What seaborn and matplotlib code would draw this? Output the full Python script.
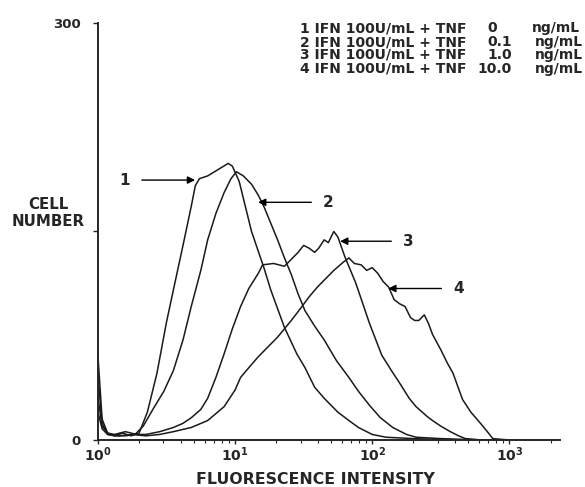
import numpy as np
import pandas as pd
import matplotlib
matplotlib.use("Agg")
import matplotlib.pyplot as plt
import seaborn as sns

# ---- data (log10 fluorescence, cell number) ----
c1_log = [0, 0.03, 0.07, 0.12, 0.18, 0.24, 0.3, 0.36, 0.43, 0.5, 0.55, 0.62, 0.68, 0.71, 0.74,
          0.8, 0.85, 0.9, 0.95, 0.98, 1.03, 1.12, 1.21, 1.26, 1.36, 1.45, 1.51, 1.58, 1.65, 1.75,
          1.83, 1.9, 2.0, 2.1, 2.3, 2.6, 3.0]
c1_val = [45, 12, 4, 3, 5, 3, 5, 20, 48, 85, 108, 140, 168, 183, 188,
          190, 193, 196, 199, 197, 186, 150, 124, 108, 81, 62, 52, 38, 30, 20,
          14, 9, 4, 2, 1, 0, 0]

c2_log = [0, 0.03, 0.07, 0.12, 0.2, 0.27, 0.33, 0.4, 0.48, 0.55, 0.62, 0.68, 0.75, 0.8, 0.86,
          0.92, 0.97, 1.01, 1.06, 1.12, 1.17, 1.21, 1.26, 1.31, 1.36, 1.41, 1.46, 1.51, 1.58,
          1.65, 1.74, 1.83, 1.9, 1.98, 2.06, 2.15, 2.25, 2.32, 2.5, 2.8, 3.0]
c2_val = [60, 15, 5, 3, 3, 4, 10, 22, 35, 50, 72, 96, 122, 144, 163,
          178, 188, 193, 190, 184, 176, 168, 156, 144, 131, 119, 105, 93, 82,
          72, 57, 45, 35, 25, 16, 9, 4, 2, 1, 0, 0]

c3_log = [0, 0.03, 0.07, 0.12, 0.2, 0.28, 0.35, 0.45, 0.55, 0.62, 0.68, 0.75, 0.8, 0.86, 0.92,
          0.98, 1.04, 1.1, 1.17, 1.2, 1.28, 1.36, 1.41, 1.46, 1.5, 1.54, 1.58, 1.61, 1.65, 1.68,
          1.72, 1.75, 1.8, 1.88, 1.98, 2.07, 2.14, 2.2, 2.27, 2.32, 2.4, 2.44, 2.5, 2.57, 2.63,
          2.68, 2.8, 3.0]
c3_val = [30, 10, 5, 4, 6, 4, 4, 6, 9, 12, 16, 22, 30, 45, 62,
          80, 96, 109, 120, 126, 127, 125, 130, 135, 140, 138, 135, 138, 144, 142,
          150, 146, 132, 113, 84, 61, 50, 41, 30, 24, 17, 14, 10, 6, 3,
          1, 0, 0]

c4_log = [0, 0.03, 0.07, 0.15, 0.25, 0.35, 0.45, 0.55, 0.68, 0.8, 0.92, 1.0, 1.04, 1.1, 1.17,
          1.24, 1.31, 1.36, 1.41, 1.48, 1.54, 1.6, 1.65, 1.72, 1.79, 1.83, 1.87, 1.92, 1.96, 2.0,
          2.04, 2.08, 2.12, 2.16, 2.2, 2.24, 2.28, 2.31, 2.34, 2.38, 2.41, 2.44, 2.5, 2.55, 2.59,
          2.63, 2.66, 2.72, 2.79, 2.84, 2.88, 3.0]
c4_val = [20, 8, 4, 3, 4, 3, 4, 6, 9, 14, 24, 36, 45, 52, 60,
          67, 74, 80, 86, 95, 103, 110, 115, 122, 128, 131, 127, 126, 122, 124,
          120, 114, 110, 101, 98, 96, 88, 86, 86, 90, 84, 76, 65, 55, 48,
          37, 29, 20, 12, 6, 1, 0]

legend_num = ["1", "2", "3", "4"]
legend_tnf = ["0", "0.1", "1.0", "10.0"]
curve_labels = ["1", "2", "3", "4"]
x_tick_labels = [r"$\mathbf{10^{0}}$", r"$\mathbf{10^{1}}$", r"$\mathbf{10^{2}}$", r"$\mathbf{10^{3}}$"]
y_tick_labels = ["0", "", "300"]

frames = []
for name, lx, v in [("1", c1_log, c1_val), ("2", c2_log, c2_val),
                    ("3", c3_log, c3_val), ("4", c4_log, c4_val)]:
    frames.append(pd.DataFrame({"intensity": np.power(10.0, lx), "count": v, "curve": name}))
df = pd.concat(frames, ignore_index=True)

sns.set_style("ticks")
plt.rcParams["font.family"] = ["DejaVu Sans"]
plt.rcParams["mathtext.fontset"] = "dejavusans"

W, H = 585, 487
fig = plt.figure(figsize=(W / 100, H / 100), dpi=100)
ax_left, ax_right, ax_top, ax_bottom = 98, 560, 23, 440
ax = fig.add_axes([ax_left / W, 1 - ax_bottom / H, (ax_right - ax_left) / W, (ax_bottom - ax_top) / H])

sns.lineplot(data=df, x="intensity", y="count", hue="curve",
             palette=["#1a1a1a"] * 4, estimator=None, sort=True,
             legend=False, linewidth=1.1, ax=ax)

ax.set_xscale("log")
ax.set_xlim(1, 10 ** 3.37)
ax.set_ylim(0, 300)
sns.despine(ax=ax)
for s in ["left", "bottom"]:
    ax.spines[s].set_linewidth(1.4)

ax.set_xticks([1, 10, 100, 1000])
ax.set_xticklabels(x_tick_labels, fontsize=10)
ax.tick_params(axis="x", which="major", direction="out", length=3, width=1, pad=1)
ax.tick_params(axis="x", which="minor", direction="out", length=2, width=0.8)
ax.set_yticks([0, 150, 300])
ax.set_yticklabels(y_tick_labels, fontsize=9.5, fontweight="bold")
ax.tick_params(axis="y", direction="out", length=3.5, width=1, pad=9)

ax.set_xlabel("")
ax.set_ylabel("")
fig.text(315 / W, 1 - 479 / H, "FLUORESCENCE INTENSITY", ha="center", va="center",
         fontsize=11.3, fontweight="bold")
fig.text(48 / W, 1 - 213 / H, "CELL\nNUMBER", ha="center", va="center",
         fontsize=10.8, fontweight="bold", linespacing=1.15)

# legend text block
baselines = [32, 46, 59, 73]
for i in range(4):
    yb = 1 - baselines[i] / H
    fig.text(300 / W, yb, f"{legend_num[i]} IFN 100U/mL + TNF", ha="left", va="baseline",
             fontsize=10, fontweight="bold")
    right_edge = 512 if "." in legend_tnf[i] else 497
    fig.text(right_edge / W, yb, legend_tnf[i], ha="right", va="baseline",
             fontsize=10, fontweight="bold")
    fig.text((532 if i == 0 else 535) / W, yb, "ng/mL", ha="left", va="baseline",
             fontsize=10, fontweight="bold")

# arrows with curve numbers (text position, arrow tip in data coords)
arrows = [("1", (10 ** 0.197, 187), (10 ** 0.708, 187)),
          ("2", (10 ** 1.68, 171), (10 ** 1.168, 171)),
          ("3", (10 ** 2.263, 143), (10 ** 1.766, 143)),
          ("4", (10 ** 2.628, 109), (10 ** 2.117, 109))]
for lab, txt, tip in arrows:
    ax.annotate(lab, xy=tip, xytext=txt, ha="center", va="center",
                fontsize=11, fontweight="bold",
                arrowprops=dict(arrowstyle="-|>", color="black", lw=1,
                                mutation_scale=11, shrinkA=6, shrinkB=0))

fig.savefig("out.png", dpi=100)
